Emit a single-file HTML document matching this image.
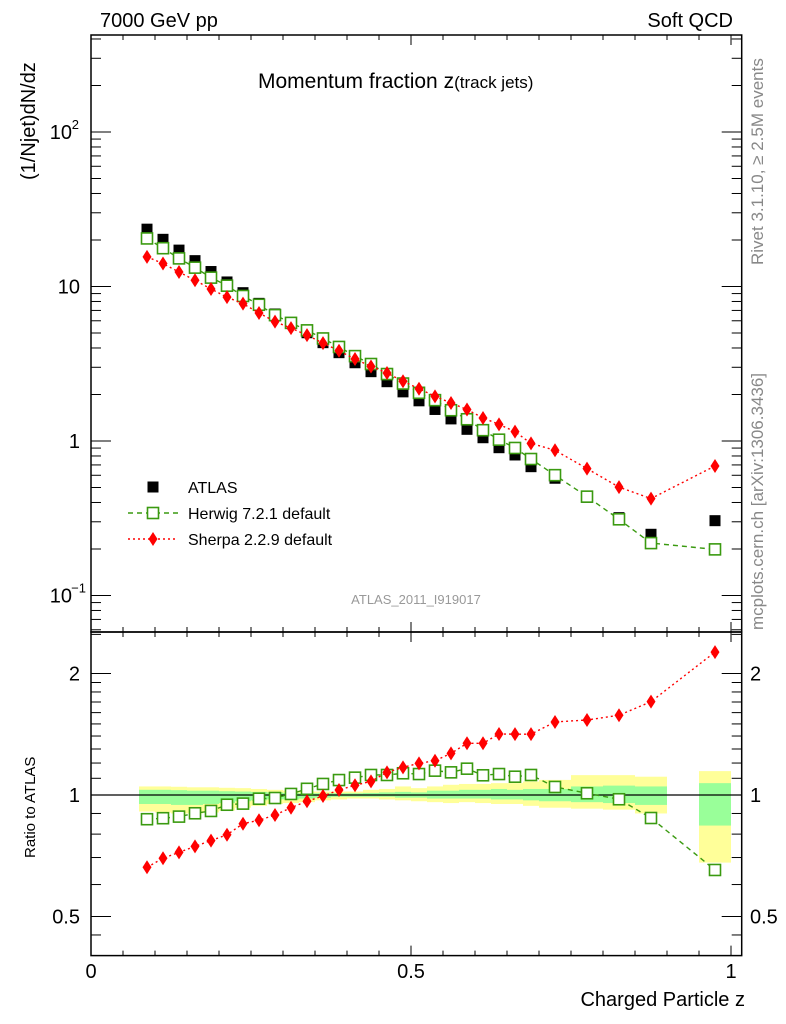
<!DOCTYPE html>
<html><head><meta charset="utf-8"><style>
html,body{margin:0;padding:0;background:#fff;}
svg{display:block;font-family:"Liberation Sans",Arial,sans-serif;}
</style></head><body>
<svg id="c" width="786" height="1024" viewBox="0 0 786 1024" xmlns="http://www.w3.org/2000/svg">
<g id="bands"></g>
<g id="axes"></g>
<g id="series"></g>
<text x="100" y="27" font-size="20">7000 GeV pp</text>
<text x="733" y="27" font-size="20" text-anchor="end">Soft QCD</text>
<text x="258" y="88" font-size="21">Momentum fraction <tspan font-size="21">z</tspan><tspan font-size="17">(track jets)</tspan></text>
<text transform="translate(35,180) rotate(-90)" font-size="20">(1/Njet)dN/dz</text>
<text transform="translate(35,858) rotate(-90)" font-size="15">Ratio to ATLAS</text>
<text x="745" y="1006" font-size="20" text-anchor="end">Charged Particle z</text>
<text transform="translate(763,265) rotate(-90)" font-size="17" fill="#888">Rivet 3.1.10, ≥ 2.5M events</text>
<text transform="translate(763,630) rotate(-90)" font-size="17" fill="#888">mcplots.cern.ch [arXiv:1306.3436]</text>
<text x="416" y="604" font-size="13" fill="#999" text-anchor="middle">ATLAS_2011_I919017</text>
<g id="legend"></g>
</svg>
<script>
const binLo=[0.075,0.1,0.125,0.15,0.175,0.2,0.225,0.25,0.275,0.3,0.325,0.35,0.375,0.4,0.425,0.45,0.475,0.5,0.525,0.55,0.575,0.6,0.625,0.65,0.675,0.7,0.75,0.8,0.85,0.95];
const binHi=[0.1,0.125,0.15,0.175,0.2,0.225,0.25,0.275,0.3,0.325,0.35,0.375,0.4,0.425,0.45,0.475,0.5,0.525,0.55,0.575,0.6,0.625,0.65,0.675,0.7,0.75,0.8,0.85,0.9,1.0];
const atlas=[23.5,20.2,17.2,14.7,12.5,10.7,9.12,7.78,6.64,5.78,5.02,4.33,3.73,3.21,2.81,2.42,2.08,1.82,1.60,1.39,1.19,1.05,0.905,0.812,0.682,0.574,0.432,0.319,0.249,0.305];
const herwigRatio=[0.871,0.876,0.884,0.901,0.913,0.946,0.952,0.979,0.983,1.006,1.036,1.065,1.089,1.104,1.121,1.121,1.132,1.127,1.149,1.138,1.162,1.119,1.127,1.110,1.121,1.047,1.010,0.976,0.877,0.652];
const sherpaRatio=[0.662,0.697,0.721,0.746,0.771,0.797,0.849,0.866,0.892,0.930,0.965,0.994,1.029,1.057,1.081,1.138,1.171,1.198,1.216,1.268,1.343,1.343,1.416,1.415,1.415,1.517,1.534,1.576,1.703,2.26];
const greenLo=[0.95,0.95,0.945,0.945,0.95,0.955,0.965,0.97,0.975,0.975,0.98,0.985,0.99,0.99,0.99,0.99,0.985,0.985,0.98,0.98,0.98,0.98,0.975,0.975,0.97,0.965,0.96,0.955,0.945,0.84];
const greenHi=[1.03,1.03,1.028,1.025,1.025,1.022,1.02,1.018,1.015,1.012,1.01,1.01,1.01,1.01,1.012,1.015,1.018,1.015,1.025,1.025,1.03,1.03,1.035,1.03,1.035,1.035,1.05,1.055,1.05,1.07];
const yelLo=[0.91,0.905,0.9,0.9,0.905,0.915,0.93,0.94,0.95,0.955,0.96,0.97,0.975,0.98,0.98,0.975,0.97,0.965,0.96,0.955,0.96,0.955,0.95,0.95,0.94,0.93,0.925,0.92,0.9,0.68];
const yelHi=[1.05,1.05,1.048,1.045,1.045,1.042,1.04,1.035,1.03,1.025,1.02,1.02,1.02,1.02,1.03,1.035,1.05,1.04,1.05,1.06,1.065,1.065,1.07,1.07,1.08,1.09,1.12,1.12,1.11,1.146];
const mainTicks=[[1e-1,"10","−1"],[1,"1",""],[10,"10",""],[100,"10","2"]];
const ratioTicks=[0.5,1,2];
const xTicks=[0,0.5,1];

const NS="http://www.w3.org/2000/svg";
const X0=91,X1=741.7,XS=640;
const MT=35,MB=632,RT=632,RB=955.6;
const xs=z=>X0+z*XS;
const ys=v=>441-Math.log10(v)*154.5;
const yr=r=>795-Math.log2(r)*121.5;
function mk(parent,tag,attrs){const e=document.createElementNS(NS,tag);for(const k in attrs)e.setAttribute(k,attrs[k]);parent.appendChild(e);return e;}
const bands=document.getElementById('bands'),axes=document.getElementById('axes'),series=document.getElementById('series'),legend=document.getElementById('legend');

for(let i=0;i<binLo.length;i++){
  let r=mk(bands,'rect',{x:xs(binLo[i]),y:yr(yelHi[i]),width:xs(binHi[i])-xs(binLo[i]),height:yr(yelLo[i])-yr(yelHi[i]),fill:'#ffff99'});
  
  
  let g=mk(bands,'rect',{x:xs(binLo[i]),y:yr(greenHi[i]),width:xs(binHi[i])-xs(binLo[i]),height:yr(greenLo[i])-yr(greenHi[i]),fill:'#99ff99'});
  
  
}
for(const [t,b] of [[MT,MB],[RT,RB]]){
  let f=mk(axes,'rect',{x:X0,y:t,width:X1-X0,height:b-t,fill:'none',stroke:'#000','stroke-width':1.5});
  
  
}
mk(axes,'line',{x1:X0,x2:X1,y1:yr(1),y2:yr(1),stroke:'#000','stroke-width':1.3});
for(let k=0;k<=20;k++){const z=k*0.05,maj=k%10==0,L=maj?10:5;
  for(const [t,b] of [[MT,MB],[RT,RB]]){
    mk(axes,'line',{x1:xs(z),x2:xs(z),y1:b,y2:b-L,stroke:'#000'});
    mk(axes,'line',{x1:xs(z),x2:xs(z),y1:t,y2:t+L,stroke:'#000'});
  }}
for(const z of xTicks){let t=mk(axes,'text',{x:xs(z),y:978,'font-size':20,'text-anchor':'middle'});t.textContent=String(z);
  
  }
for(let d=-2;d<=2;d++){for(let m=1;m<=9;m++){const v=m*Math.pow(10,d),y=ys(v);if(y<MT||y>MB)continue;const L=m==1?20:10;
  mk(axes,'line',{x1:X0,x2:X0+L,y1:y,y2:y,stroke:'#000'});mk(axes,'line',{x1:X1,x2:X1-L,y1:y,y2:y,stroke:'#000'});}}
for(const [v,b,e] of mainTicks){let t=mk(axes,'text',{x:e?72:80,y:ys(v)+7,'font-size':20,'text-anchor':'end'});t.textContent=b;
  
  
  if(e){let s=mk(axes,'text',{x:e.length>1?86:79,y:ys(v)-3,'font-size':13,'text-anchor':'end'});s.textContent=e;}}
const rmin=[0.5,0.6,0.7,0.8,0.9,1,1.1,1.2,1.3,1.4,1.5,1.6,1.7,1.8,1.9,2,0.45,0.4,2.5];
for(const v of rmin){const y=yr(v);if(y<RT||y>RB)continue;const L=ratioTicks.includes(v)?20:10;
  mk(axes,'line',{x1:X0,x2:X0+L,y1:y,y2:y,stroke:'#000'});mk(axes,'line',{x1:X1,x2:X1-L,y1:y,y2:y,stroke:'#000'});}
for(const v of ratioTicks){for(const [x,a] of [[80,'end'],[750,'start']]){let t=mk(axes,'text',{x:x,y:yr(v)+7,'font-size':20,'text-anchor':a});t.textContent=String(v);
  
  }}

const cz=binLo.map((l,i)=>(l+binHi[i])/2);
function square(g,x,y,fill){mk(g,'rect',{x:x-5.5,y:y-5.5,width:11,height:11,fill:fill?'#000':'#fff',stroke:fill?'none':'#3a9a10','stroke-width':1.6});}
function diamond(g,x,y){mk(g,'polygon',{points:`${x},${y-7} ${x+4.5},${y} ${x},${y+7} ${x-4.5},${y}`,fill:'#ff0000'});}
const gA=mk(series,'g',{});


atlas.forEach((v,i)=>square(gA,xs(cz[i]),ys(v),true));
const herwig=atlas.map((v,i)=>v*herwigRatio[i]),sherpa=atlas.map((v,i)=>v*sherpaRatio[i]);
const gH=mk(series,'g',{});


mk(gH,'polyline',{points:herwig.map((v,i)=>xs(cz[i])+','+ys(v)).join(' '),fill:'none',stroke:'#3a9a10','stroke-width':1.4,'stroke-dasharray':'5,4'});
herwig.forEach((v,i)=>square(gH,xs(cz[i]),ys(v),false));
const gS=mk(series,'g',{});


mk(gS,'polyline',{points:sherpa.map((v,i)=>xs(cz[i])+','+ys(v)).join(' '),fill:'none',stroke:'#ff0000','stroke-width':1.4,'stroke-dasharray':'2,3'});
sherpa.forEach((v,i)=>diamond(gS,xs(cz[i]),ys(v)));
const gHR=mk(series,'g',{});


mk(gHR,'polyline',{points:herwigRatio.map((v,i)=>xs(cz[i])+','+yr(v)).join(' '),fill:'none',stroke:'#3a9a10','stroke-width':1.4,'stroke-dasharray':'5,4'});
herwigRatio.forEach((v,i)=>square(gHR,xs(cz[i]),yr(v),false));
const gSR=mk(series,'g',{});


mk(gSR,'polyline',{points:sherpaRatio.map((v,i)=>xs(cz[i])+','+yr(v)).join(' '),fill:'none',stroke:'#ff0000','stroke-width':1.4,'stroke-dasharray':'2,3'});
sherpaRatio.forEach((v,i)=>diamond(gSR,xs(cz[i]),yr(v)));
const lg=[['ATLAS','a',487],['Herwig 7.2.1 default','h',513],['Sherpa 2.2.9 default','s',539]];
for(const [lab,t,y] of lg){
  if(t=='a')square(legend,153,y,true);
  if(t=='h'){mk(legend,'line',{x1:128,x2:178,y1:y,y2:y,stroke:'#3a9a10','stroke-width':1.4,'stroke-dasharray':'5,4'});square(legend,153,y,false);}
  if(t=='s'){mk(legend,'line',{x1:128,x2:178,y1:y,y2:y,stroke:'#ff0000','stroke-width':1.4,'stroke-dasharray':'2,3'});diamond(legend,153,y);}
  let e=mk(legend,'text',{x:188,y:y+6,'font-size':16});e.textContent=lab;
  
  
}
</script>
</body></html>
